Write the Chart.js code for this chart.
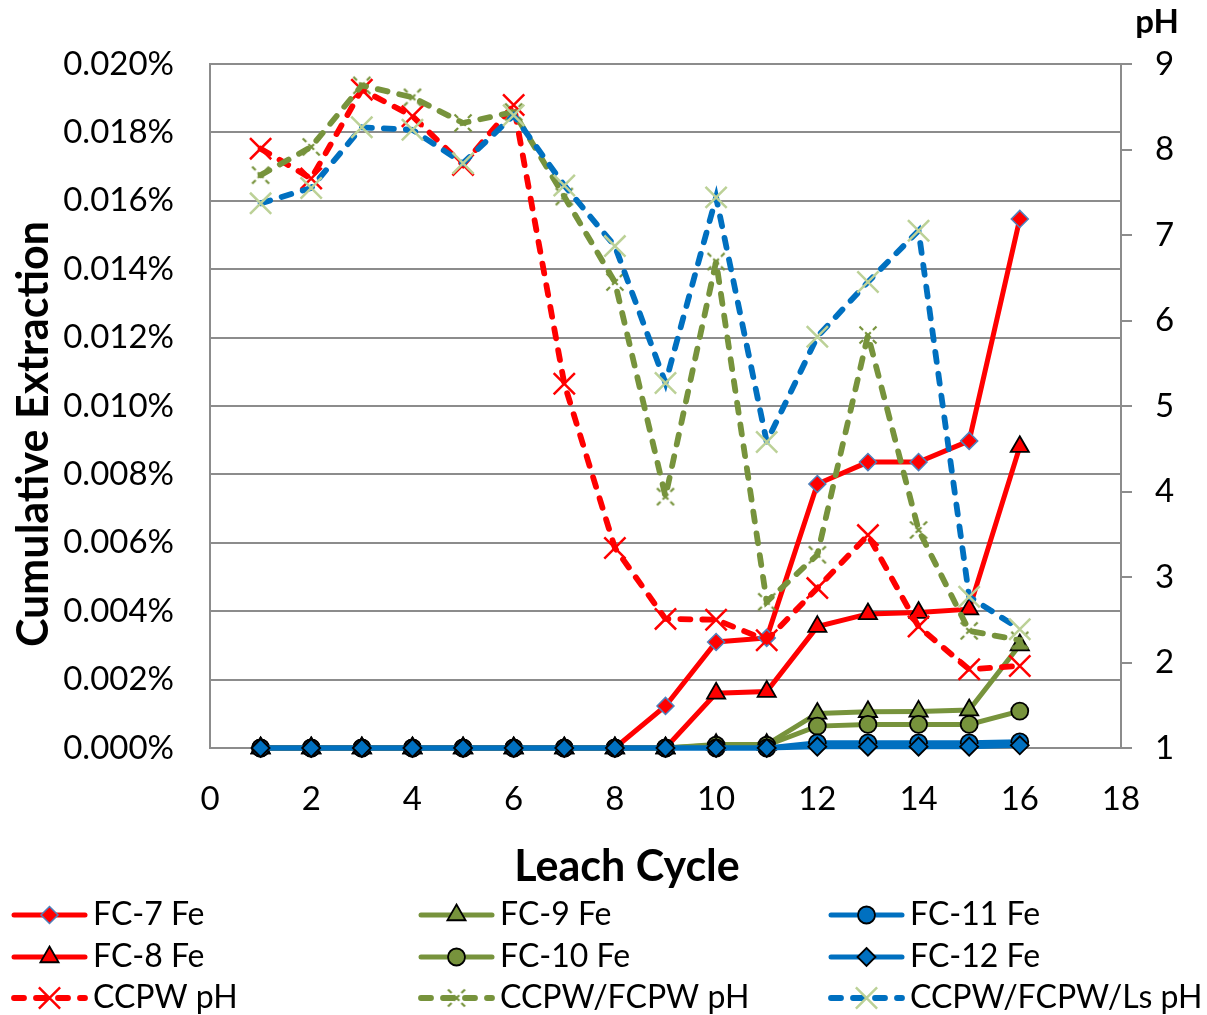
<!DOCTYPE html>
<html>
<head>
<meta charset="utf-8">
<script src="https://cdn.jsdelivr.net/npm/chart.js@4/dist/chart.umd.min.js"></script>
<style>
html, body { margin: 0; padding: 0; background: #ffffff; }
#wrap { width: 1207px; height: 1015px; position: relative; }
</style>
</head>
<body>
<div id="wrap"><canvas id="c" width="1207" height="1015"></canvas></div>
<script>
// ---------------- data ----------------
const cycles = [1, 2, 3, 4, 5, 6, 7, 8, 9, 10, 11, 12, 13, 14, 15, 16];

// Cumulative extraction (%)
const fc7Fe  = [0, 0, 0, 0, 0, 0, 0, 0, 0.00123, 0.00310, 0.00322, 0.00772, 0.00836, 0.00836, 0.00898, 0.01547];
const fc8Fe  = [0, 0, 0, 0, 0, 0, 0, 0, 0, 0.00160, 0.00165, 0.00355, 0.00392, 0.00396, 0.00406, 0.00881];
const fc9Fe  = [0, 0, 0, 0, 0, 0, 0, 0, 0, 0.00010, 0.00010, 0.00101, 0.00106, 0.00107, 0.00111, 0.00301];
const fc10Fe = [0, 0, 0, 0, 0, 0, 0, 0, 0, 0.00008, 0.00008, 0.00064, 0.00069, 0.00069, 0.00069, 0.00108];
const fc11Fe = [0, 0, 0, 0, 0, 0, 0, 0, 0, 0, 0, 0.00015, 0.00015, 0.00015, 0.00015, 0.00018];
const fc12Fe = [0, 0, 0, 0, 0, 0, 0, 0, 0, 0, 0, 0.00004, 0.00004, 0.00004, 0.00004, 0.00008];

// pH (right axis)
const ccpwPH       = [8.01, 7.66, 8.70, 8.39, 7.82, 8.52, 5.26, 3.34, 2.51, 2.50, 2.26, 2.87, 3.49, 2.42, 1.92, 1.96];
const ccpwFcpwPH   = [7.70, 8.03, 8.75, 8.61, 8.31, 8.44, 7.45, 6.45, 3.94, 6.69, 2.71, 3.26, 5.83, 3.55, 2.37, 2.26];
const ccpwFcpwLsPH = [7.37, 7.55, 8.26, 8.23, 7.84, 8.40, 7.58, 6.87, 5.27, 7.44, 4.58, 5.81, 6.45, 7.05, 2.77, 2.39];

const seriesLabels = ['FC-7 Fe', 'FC-8 Fe', 'FC-9 Fe', 'FC-10 Fe', 'FC-11 Fe', 'FC-12 Fe',
                      'CCPW pH', 'CCPW/FCPW pH', 'CCPW/FCPW/Ls pH'];
const xTitle = 'Leach Cycle';
const yTitle = 'Cumulative Extraction';
const y1Title = 'pH';

// ---------------- styles ----------------
const RED = '#FF0000';
const GREEN = '#77933C';
const BLUE = '#0070C0';
const LIGHTGREEN = '#BCD197';
const GRID = '#8C8C8C';
const FONT = 'Lato';

function makeDashedX(color, size, lw) {
  const c = document.createElement('canvas');
  c.width = size; c.height = size;
  const g = c.getContext('2d');
  g.strokeStyle = color; g.lineWidth = lw; g.lineCap = 'butt';
  g.setLineDash([4, 3, 5]);
  const h = size / 2, e = size / 2 - 1.5;
  [[1, 1], [1, -1], [-1, 1], [-1, -1]].forEach(([sx, sy]) => {
    g.beginPath();
    g.moveTo(h, h);
    g.lineTo(h + sx * e, h + sy * e);
    g.stroke();
  });
  return c;
}
const dashedGreenX = makeDashedX(GREEN, 24, 2.2);

const pts = (vals) => vals.map((v, i) => ({ x: cycles[i], y: v }));

const DASH = [10, 12];
const DASH_W = 5.8;
const datasets = [
  { label: seriesLabels[0], data: pts(fc7Fe), yAxisID: 'y', borderColor: RED, borderWidth: 5,
    pointStyle: 'rectRot', pointRadius: 8.5, pointBackgroundColor: RED, pointBorderColor: '#4F81BD', pointBorderWidth: 1.5 },
  { label: seriesLabels[1], data: pts(fc8Fe), yAxisID: 'y', borderColor: RED, borderWidth: 5,
    pointStyle: 'triangle', pointRadius: 10.5, pointBackgroundColor: RED, pointBorderColor: '#000', pointBorderWidth: 1.8 },
  { label: seriesLabels[2], data: pts(fc9Fe), yAxisID: 'y', borderColor: GREEN, borderWidth: 5,
    pointStyle: 'triangle', pointRadius: 10.5, pointBackgroundColor: GREEN, pointBorderColor: '#000', pointBorderWidth: 1.8 },
  { label: seriesLabels[3], data: pts(fc10Fe), yAxisID: 'y', borderColor: GREEN, borderWidth: 5,
    pointStyle: 'circle', pointRadius: 8.5, pointBackgroundColor: GREEN, pointBorderColor: '#000', pointBorderWidth: 1.8 },
  { label: seriesLabels[4], data: pts(fc11Fe), yAxisID: 'y', borderColor: BLUE, borderWidth: 5,
    pointStyle: 'circle', pointRadius: 8.5, pointBackgroundColor: BLUE, pointBorderColor: '#000', pointBorderWidth: 1.8 },
  { label: seriesLabels[5], data: pts(fc12Fe), yAxisID: 'y', borderColor: BLUE, borderWidth: 5,
    pointStyle: 'rectRot', pointRadius: 9, pointBackgroundColor: BLUE, pointBorderColor: '#000', pointBorderWidth: 1.8 },
  { label: seriesLabels[6], data: pts(ccpwPH), yAxisID: 'y1', borderColor: RED, borderWidth: DASH_W,
    borderDash: DASH, borderCapStyle: 'round',
    pointStyle: 'crossRot', pointRadius: 15, pointBackgroundColor: RED, pointBorderColor: RED, pointBorderWidth: 2.5 },
  { label: seriesLabels[7], data: pts(ccpwFcpwPH), yAxisID: 'y1', borderColor: GREEN, borderWidth: DASH_W,
    borderDash: DASH, borderCapStyle: 'round',
    pointStyle: dashedGreenX, pointRadius: 12, pointBackgroundColor: GREEN, pointBorderColor: GREEN, pointBorderWidth: 2 },
  { label: seriesLabels[8], data: pts(ccpwFcpwLsPH), yAxisID: 'y1', borderColor: BLUE, borderWidth: DASH_W,
    borderDash: DASH, borderCapStyle: 'round',
    pointStyle: 'crossRot', pointRadius: 15, pointBackgroundColor: LIGHTGREEN, pointBorderColor: LIGHTGREEN, pointBorderWidth: 2.5 }
];
datasets.forEach((d, i) => {
  d.order = datasets.length - i;   // later series drawn on top (like Excel)
  d.clip = false;
  d.tension = 0;
  d.fill = false;
  d.backgroundColor = d.borderColor;
  d.pointHoverRadius = d.pointRadius;
});

// ---------------- custom legend (3 columns) ----------------
function drawMarker(ctx, ds, x, y) {
  const r = ds.pointRadius, st = ds.pointStyle;
  ctx.save();
  ctx.setLineDash([]);
  ctx.fillStyle = ds.pointBackgroundColor;
  ctx.strokeStyle = ds.pointBorderColor;
  ctx.lineWidth = ds.pointBorderWidth;
  if (typeof st === 'object') {
    ctx.drawImage(st, x - st.width / 2, y - st.height / 2);
  } else if (st === 'rectRot') {
    ctx.beginPath();
    ctx.moveTo(x, y - r); ctx.lineTo(x + r, y); ctx.lineTo(x, y + r); ctx.lineTo(x - r, y); ctx.closePath();
    ctx.fill(); ctx.stroke();
  } else if (st === 'triangle') {
    const a = 2 * Math.PI / 3;
    ctx.beginPath();
    ctx.moveTo(x, y - r);
    ctx.lineTo(x + Math.sin(a) * r, y - Math.cos(a) * r);
    ctx.lineTo(x + Math.sin(2 * a) * r, y - Math.cos(2 * a) * r);
    ctx.closePath();
    ctx.fill(); ctx.stroke();
  } else if (st === 'circle') {
    ctx.beginPath(); ctx.arc(x, y, r, 0, Math.PI * 2); ctx.fill(); ctx.stroke();
  } else if (st === 'crossRot') {
    const d = r * Math.SQRT1_2;
    ctx.beginPath();
    ctx.moveTo(x - d, y - d); ctx.lineTo(x + d, y + d);
    ctx.moveTo(x + d, y - d); ctx.lineTo(x - d, y + d);
    ctx.stroke();
  }
  ctx.restore();
}

const gridLegend = {
  id: 'gridLegend',
  afterDraw(chart) {
    const ctx = chart.ctx;
    const cols = [{ x0: 14, x1: 85, tx: 93 }, { x0: 421, x1: 492, tx: 500 }, { x0: 831, x1: 902, tx: 910 }];
    const rows = [915, 957, 998];
    chart.data.datasets.forEach((ds, i) => {
      const row = i < 6 ? i % 2 : 2;
      const col = i < 6 ? Math.floor(i / 2) : i - 6;
      const c = cols[col], y = rows[row];
      ctx.save();
      ctx.strokeStyle = ds.borderColor;
      ctx.lineWidth = ds.borderWidth;
      ctx.lineCap = ds.borderCapStyle || 'round';
      ctx.setLineDash(ds.borderDash || []);
      ctx.beginPath(); ctx.moveTo(c.x0, y); ctx.lineTo(c.x1, y); ctx.stroke();
      ctx.restore();
      drawMarker(ctx, ds, (c.x0 + c.x1) / 2, y);
      ctx.save();
      ctx.font = '32px ' + FONT;
      ctx.fillStyle = '#000';
      ctx.textAlign = 'left';
      ctx.textBaseline = 'middle';
      ctx.fillText(ds.label, c.tx, y);
      ctx.restore();
    });
  }
};

// axis titles placed like the original (Excel) layout
const axisTitles = {
  id: 'axisTitles',
  afterDraw(chart) {
    const ctx = chart.ctx;
    ctx.save();
    ctx.fillStyle = '#000';
    ctx.textAlign = 'center';
    ctx.textBaseline = 'middle';
    ctx.font = 'bold 43px ' + FONT;
    ctx.fillText(xTitle, 627, 867);
    ctx.save();
    ctx.translate(34, 434);
    ctx.rotate(-Math.PI / 2);
    ctx.fillText(yTitle, 0, 0);
    ctx.restore();
    const s = chart.scales.y1;
    ctx.font = 'bold 33px ' + FONT;
    ctx.fillText(y1Title, s.left + 36, 22);
    ctx.restore();
  }
};

// ---------------- chart ----------------
new Chart(document.getElementById('c'), {
  type: 'line',
  data: { datasets },
  options: {
    responsive: false,
    animation: false,
    devicePixelRatio: 1,
    layout: { padding: { top: 64, left: 0, right: 0, bottom: 125 } },
    plugins: { legend: { display: false }, tooltip: { enabled: false } },
    scales: {
      x: {
        type: 'linear', min: 0, max: 18,
        ticks: { stepSize: 2, font: { family: FONT, size: 33 }, color: '#000', padding: 24, maxRotation: 0, autoSkip: false },
        grid: { display: false },
        border: { display: true, color: GRID, width: 2 },
        title: { display: false, text: xTitle },
        afterFit(s) { s.height = 142; }
      },
      y: {
        position: 'left', min: 0, max: 0.02,
        ticks: { stepSize: 0.002, callback: (v) => v.toFixed(3) + '%', font: { family: FONT, size: 33 }, color: '#000', padding: 36 },
        grid: { color: GRID, lineWidth: 2, drawTicks: false },
        border: { display: true, color: GRID, width: 2 },
        title: { display: false, text: yTitle },
        afterFit(s) { s.width = 210; }
      },
      y1: {
        position: 'right', min: 1, max: 9,
        ticks: { stepSize: 1, font: { family: FONT, size: 33 }, color: '#000', padding: 23 },
        grid: { drawOnChartArea: false, drawTicks: true, tickLength: 11, color: GRID, lineWidth: 2 },
        border: { display: true, color: GRID, width: 2 },
        afterFit(s) { s.width = 86; }
      }
    }
  },
  plugins: [gridLegend, axisTitles]
});
</script>
</body>
</html>
